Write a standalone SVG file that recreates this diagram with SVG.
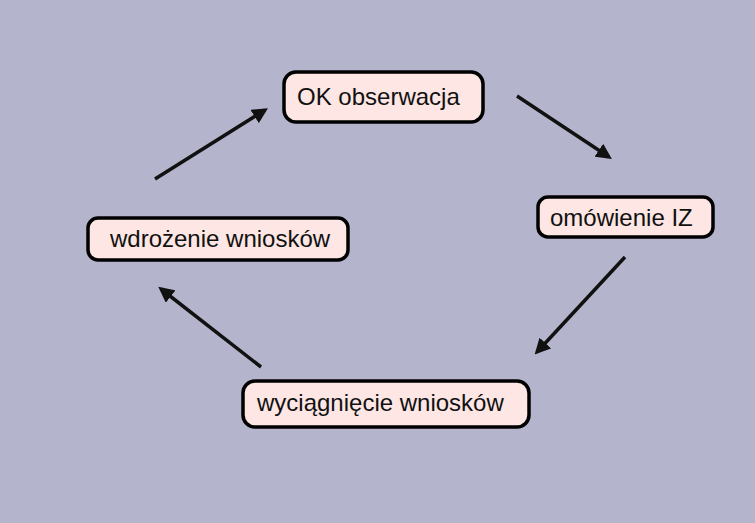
<svg xmlns="http://www.w3.org/2000/svg" width="755" height="523" viewBox="0 0 755 523">
<style>
.box{fill:#FDE6E3;stroke:#000;stroke-width:3.5}
.lbl{font-family:"Liberation Sans",Arial,sans-serif;font-size:24px;fill:#111}
.conn{stroke:#111;stroke-width:3.5;fill:none;marker-end:url(#ah)}
</style>
<defs>
<marker id="ah" markerWidth="4.5" markerHeight="4.5" refX="3.5" refY="2.25" orient="auto" markerUnits="strokeWidth">
<path d="M0,0 L4.5,2.25 L0,4.5 Z" fill="#111"/>
</marker>
</defs>
<rect width="755" height="523" fill="#B4B5CD"/>
<g id="connectors">
<line class="conn" x1="517" y1="96" x2="609" y2="157"/>
<line class="conn" x1="625" y1="257" x2="537" y2="352"/>
<line class="conn" x1="261" y1="367" x2="161" y2="289"/>
<line class="conn" x1="155" y1="179" x2="265" y2="110"/>
</g>
<g id="n1"><rect class="box" x="284" y="72" width="199" height="50" rx="12"/><text class="lbl" x="297" y="105">OK obserwacja</text></g>
<g id="n2"><rect class="box" x="538" y="197" width="175" height="40" rx="10"/><text class="lbl" x="550" y="226">omówienie IZ</text></g>
<g id="n3"><rect class="box" x="88" y="218" width="260" height="42" rx="10"/><text class="lbl" x="110" y="247">wdrożenie wniosków</text></g>
<g id="n4"><rect class="box" x="243" y="381" width="286" height="46" rx="12"/><text class="lbl" x="257" y="411">wyciągnięcie wniosków</text></g>
</svg>
